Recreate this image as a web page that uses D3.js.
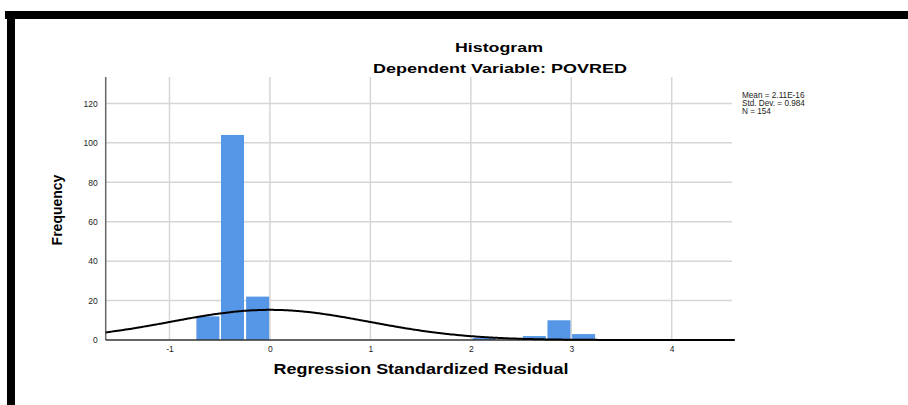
<!DOCTYPE html>
<html>
<head>
<meta charset="utf-8">
<script src="https://cdn.jsdelivr.net/npm/d3@7"></script>
<style>
  body { margin: 0; background: #fff; }
  text { font-family: "Liberation Sans", Arial, sans-serif; }
</style>
</head>
<body>
<script>
// histogram bins (left edge, count), one bin width
var binStart = [-0.74, -0.495, -0.245, 2.01, 2.51, 2.755, 3.0];
var binCount = [12, 104, 22, 1, 2, 10, 3];
var binWidth = 0.245;

// stats from the legend, used for the normal curve
var statMean = 2.11e-16, statSd = 0.984, statN = 154;
var statLabels = ["Mean = 2.11E-16", "Std. Dev. = 0.984", "N = 154"];

var xTicks = [-1, 0, 1, 2, 3, 4];
var yTicks = [0, 20, 40, 60, 80, 100, 120];

var W = 908, H = 405;
var svg = d3.select("body").append("svg")
    .attr("width", W)
    .attr("height", H);

// frame (black bars top and left)
svg.append("rect").attr("x", 5).attr("y", 11).attr("width", W - 5).attr("height", 8).attr("fill", "#000");
svg.append("rect").attr("x", 7).attr("y", 11).attr("width", 8).attr("height", H - 11).attr("fill", "#000");

var pLeft = 105.7, pRight = 735, pTop = 77, pBottom = 340;

var x = d3.scaleLinear()
    .domain([-1.635, 4.63])
    .range([pLeft, pRight]);

var y = d3.scaleLinear()
    .domain([0, 133.4])
    .range([pBottom, pTop]);

// gridlines
svg.append("g").selectAll("line")
    .data(yTicks.slice(1))
    .enter().append("line")
    .attr("x1", pLeft).attr("x2", pRight - 3)
    .attr("y1", function (d) { return y(d); })
    .attr("y2", function (d) { return y(d); })
    .attr("stroke", "#d6d6d6")
    .attr("stroke-width", 1.5);

svg.append("g").selectAll("line")
    .data(xTicks)
    .enter().append("line")
    .attr("x1", function (d) { return x(d); })
    .attr("x2", function (d) { return x(d); })
    .attr("y1", pTop).attr("y2", pBottom)
    .attr("stroke", "#d6d6d6")
    .attr("stroke-width", 1.5);

// bars
svg.append("g").selectAll("rect")
    .data(binStart)
    .enter().append("rect")
    .attr("x", function (d) { return x(d) + 0.8; })
    .attr("width", function (d) { return x(d + binWidth) - x(d) - 1.6; })
    .attr("y", function (d, i) { return y(binCount[i]); })
    .attr("height", function (d, i) { return pBottom - y(binCount[i]); })
    .attr("fill", "#5596e6");

// axes (labels only, no ticks)
var xAxis = svg.append("g")
    .attr("transform", "translate(0," + pBottom + ")")
    .call(d3.axisBottom(x).tickValues(xTicks).tickSize(0).tickPadding(6)
        .tickFormat(function (d) { return String(d); }));
xAxis.select(".domain").remove();
xAxis.selectAll("text").attr("font-size", 8.5).attr("fill", "#222").attr("font-family", "Liberation Sans, Arial, sans-serif");

var yAxis = svg.append("g")
    .attr("transform", "translate(" + pLeft + ",0)")
    .call(d3.axisLeft(y).tickValues(yTicks).tickSize(0).tickPadding(8));
yAxis.select(".domain").remove();
yAxis.selectAll("text").attr("font-size", 8.5).attr("fill", "#222").attr("font-family", "Liberation Sans, Arial, sans-serif");

svg.append("line")
    .attr("x1", pLeft).attr("x2", pLeft)
    .attr("y1", pTop).attr("y2", pBottom)
    .attr("stroke", "#666").attr("stroke-width", 1.5);
svg.append("line")
    .attr("x1", pLeft).attr("x2", pRight)
    .attr("y1", pBottom).attr("y2", pBottom)
    .attr("stroke", "#333").attr("stroke-width", 1.5);

// normal curve
var curveX = d3.range(x.domain()[0], x.domain()[1] + 0.001, 0.02);
var line = d3.line()
    .x(function (d) { return x(d); })
    .y(function (d) {
        var z = (d - statMean) / statSd;
        return y(statN * binWidth * Math.exp(-0.5 * z * z) / (statSd * Math.sqrt(2 * Math.PI)));
    })
    .curve(d3.curveBasis);
svg.append("path")
    .datum(curveX)
    .attr("d", line)
    .attr("fill", "none")
    .attr("stroke", "#000")
    .attr("stroke-width", 2);

// titles
svg.append("text")
    .attr("x", 499).attr("y", 52)
    .attr("text-anchor", "middle")
    .attr("font-size", 13).attr("font-weight", "bold")
    .attr("textLength", 88).attr("lengthAdjust", "spacingAndGlyphs")
    .text("Histogram");
svg.append("text")
    .attr("x", 500).attr("y", 73)
    .attr("text-anchor", "middle")
    .attr("font-size", 13).attr("font-weight", "bold")
    .attr("textLength", 254).attr("lengthAdjust", "spacingAndGlyphs")
    .text("Dependent Variable: POVRED");
svg.append("text")
    .attr("x", 421).attr("y", 374)
    .attr("text-anchor", "middle")
    .attr("font-size", 14).attr("font-weight", "bold")
    .attr("textLength", 295).attr("lengthAdjust", "spacingAndGlyphs")
    .text("Regression Standardized Residual");
svg.append("text")
    .attr("transform", "translate(62,210) rotate(-90)")
    .attr("text-anchor", "middle")
    .attr("font-size", 14).attr("font-weight", "bold")
    .text("Frequency");

// stats legend
svg.append("g").selectAll("text")
    .data(statLabels)
    .enter().append("text")
    .attr("x", 742)
    .attr("y", function (d, i) { return 98 + i * 8.2; })
    .attr("font-size", 8.2)
    .attr("fill", "#222")
    .text(function (d) { return d; });
</script>
</body>
</html>
